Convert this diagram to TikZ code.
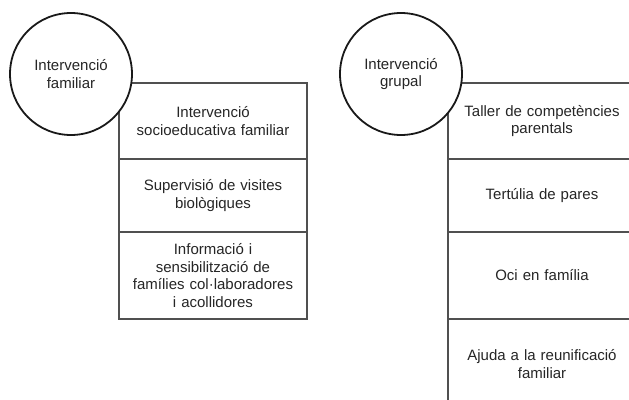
\documentclass[tikz,border=0pt]{standalone}
\usepackage{fontspec}
\setmainfont{Liberation Sans}
\definecolor{boxline}{HTML}{505050}
\definecolor{txt}{HTML}{262626}
\begin{document}
\begin{tikzpicture}[x=1pt,y=-1pt,
  font=\fontsize{15}{17.5}\selectfont,
  item/.style={draw=boxline, line width=1.3pt, rectangle, inner sep=0pt, outer sep=0pt,
    minimum width=188pt, text width=176pt, align=center, text=txt, anchor=north west},
  hub/.style={circle, draw=black!90, line width=1.8pt, fill=white, minimum size=122pt,
    inner sep=0pt, align=center, text=txt}]
\clip (0,0) rectangle (629,399);
\fill[white] (0,0) rectangle (629,399);
% left column
\node[item, minimum height=76pt] (a1) at (119,83) {Intervenció\\socioeducativa familiar};
\node[item, minimum height=73pt] (a2) at (a1.south west) {Supervisió de visites\\biològiques};
\node[item, minimum height=87pt] (a3) at (a2.south west) {Informació i\\sensibilització de\\famílies col·laboradores\\i acollidores};
\node[hub] (c1) at (71,74) {Intervenció\\familiar};
% right column
\node[item, minimum height=76pt] (b1) at (448,83) {Taller de competències\\parentals};
\node[item, minimum height=73pt] (b2) at (b1.south west) {Tertúlia de pares};
\node[item, minimum height=87pt] (b3) at (b2.south west) {Oci en família};
\node[item, minimum height=90pt] (b4) at (b3.south west) {Ajuda a la reunificació\\familiar};
\node[hub] (c2) at (401,74) {Intervenció\\grupal};
\end{tikzpicture}
\end{document}
